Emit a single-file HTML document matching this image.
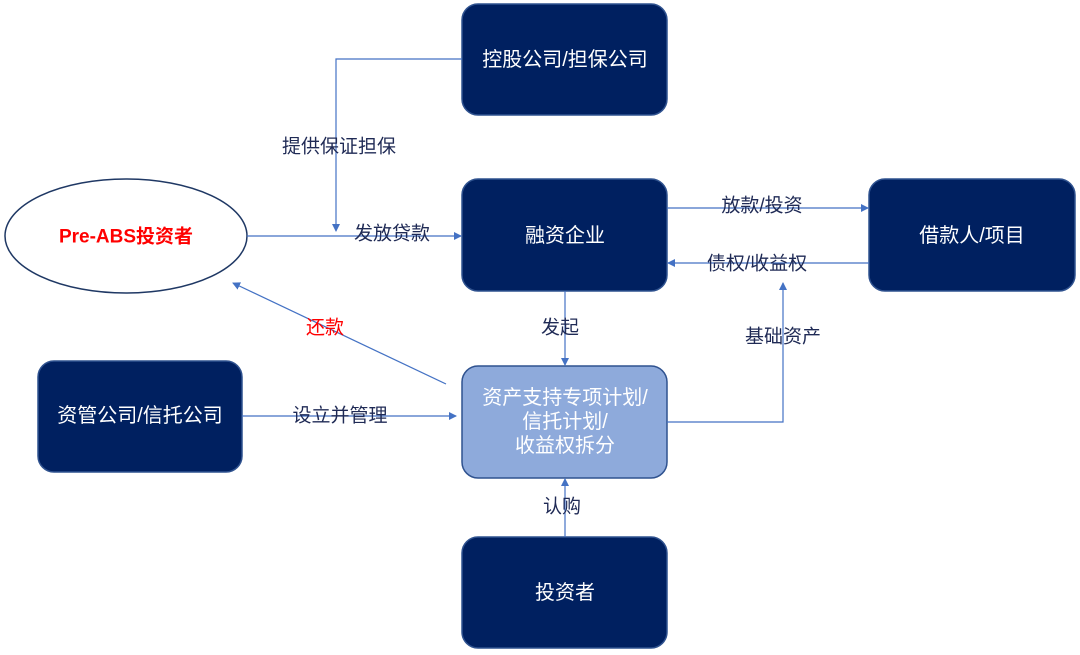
<!DOCTYPE html>
<html><head><meta charset="utf-8"><style>
html,body{margin:0;padding:0;background:#fff;}
svg{display:block;}
text{font-family:"Liberation Sans","Noto Sans CJK SC",sans-serif;}
</style></head><body>
<svg width="1080" height="655" viewBox="0 0 1080 655" xmlns="http://www.w3.org/2000/svg">
<defs>
<marker id="a" markerWidth="8" markerHeight="8" refX="7" refY="4" orient="auto" markerUnits="userSpaceOnUse">
<path d="M0,0 L8,4 L0,8 z" fill="#4472c4"/></marker>
</defs>
<g fill="#002060" stroke="#2f528f" stroke-width="1.5">
<rect x="462" y="4" width="205" height="111" rx="16"/>
<rect x="462" y="179" width="205" height="112" rx="16"/>
<rect x="869" y="179" width="206" height="112" rx="16"/>
<rect x="38" y="361" width="204" height="111" rx="16"/>
<rect x="462" y="537" width="205" height="111" rx="16"/>
</g>
<rect x="462" y="366" width="205" height="112" rx="16" fill="#8eaadb" stroke="#2f528f" stroke-width="1.5"/>
<ellipse cx="126" cy="236" rx="121" ry="57" fill="#fff" stroke="#1f3864" stroke-width="1.5"/>
<g stroke="#4472c4" stroke-width="1.2" fill="none">
<polyline points="462,59 336,59 336,231" marker-end="url(#a)"/>
<line x1="247" y1="236" x2="461" y2="236" marker-end="url(#a)"/>
<line x1="667" y1="208" x2="868" y2="208" marker-end="url(#a)"/>
<line x1="869" y1="263" x2="668" y2="263" marker-end="url(#a)"/>
<line x1="565" y1="291" x2="565" y2="365" marker-end="url(#a)"/>
<polyline points="667,422 783,422 783,283" marker-end="url(#a)"/>
<line x1="446" y1="384" x2="233" y2="283" marker-end="url(#a)"/>
<line x1="242" y1="416" x2="456" y2="416" marker-end="url(#a)"/>
<line x1="565" y1="537" x2="565" y2="479" marker-end="url(#a)"/>
</g>
<g font-size="20" fill="#fff" text-anchor="middle" dominant-baseline="central">
<text x="565" y="60">控股公司/担保公司</text>
<text x="565" y="236">融资企业</text>
<text x="972" y="236">借款人/项目</text>
<text x="140" y="416">资管公司/信托公司</text>
<text x="565" y="593">投资者</text>
<text x="565" y="398">资产支持专项计划/</text>
<text x="565" y="422">信托计划/</text>
<text x="565" y="446">收益权拆分</text>
</g>
<text x="126" y="237" font-size="19" font-weight="bold" fill="#ff0000" text-anchor="middle" dominant-baseline="central">Pre-ABS投资者</text>
<g font-size="19" fill="#1f2a55" text-anchor="middle" dominant-baseline="central">
<text x="339" y="147">提供保证担保</text>
<text x="392" y="234">发放贷款</text>
<text x="762" y="206">放款/投资</text>
<text x="757" y="264">债权/收益权</text>
<text x="560" y="328">发起</text>
<text x="783" y="337">基础资产</text>
<text x="340" y="416">设立并管理</text>
<text x="562" y="507">认购</text>
</g>
<text x="325" y="328" font-size="19" fill="#ff0000" text-anchor="middle" dominant-baseline="central">还款</text>
</svg>
</body></html>
